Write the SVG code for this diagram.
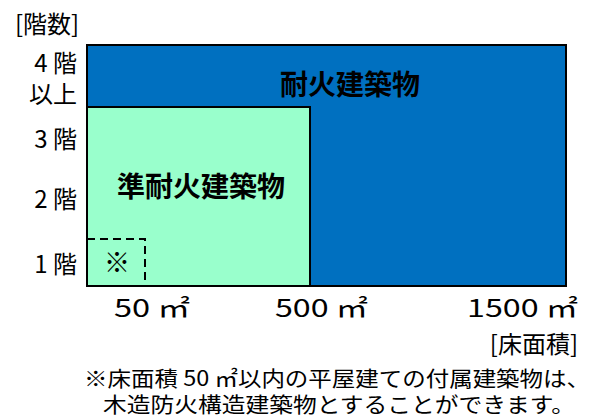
<svg xmlns="http://www.w3.org/2000/svg" width="606" height="419" viewBox="0 0 606 419">
<style>
text{font-family:"Noto Sans CJK JP","Noto Sans",sans-serif;fill:#000}
.ax{font-size:24px}
.lb{font-size:28px;font-weight:bold}
.ft{font-size:21px}
.bx{stroke:#000;stroke-width:2}
</style>
<rect width="606" height="419" fill="#fff"/>
<g id="fireproof">
<rect class="bx" x="87" y="45" width="479" height="241" fill="#0070C0"/>
<text class="lb" x="350" y="95" text-anchor="middle">耐火建築物</text>
</g>
<g id="quasi-fireproof">
<rect class="bx" x="87" y="107" width="223" height="179" fill="#99FFCC"/>
<text class="lb" x="201" y="197" text-anchor="middle">準耐火建築物</text>
</g>
<g id="small-annex">
<path d="M87 239 H145 V286" fill="none" stroke="#000" stroke-width="2" stroke-dasharray="8 5"/>
<text x="117" y="272" font-size="26" text-anchor="middle">※</text>
</g>
<g id="axis-labels">
<text class="ax" x="15" y="33">[階数]</text>
<text class="ax" x="77" y="72" text-anchor="end">4 階</text>
<text class="ax" x="77" y="103" text-anchor="end">以上</text>
<text class="ax" x="77" y="148" text-anchor="end">3 階</text>
<text class="ax" x="77" y="208" text-anchor="end">2 階</text>
<text class="ax" x="77" y="273" text-anchor="end">1 階</text>
<text class="ax" x="114" y="317" font-size="27" textLength="76" lengthAdjust="spacingAndGlyphs">50 ㎡</text>
<text class="ax" x="275" y="317" font-size="27" textLength="93" lengthAdjust="spacingAndGlyphs">500 ㎡</text>
<text class="ax" x="467" y="317" font-size="27" textLength="111" lengthAdjust="spacingAndGlyphs">1500 ㎡</text>
<text class="ax" x="578" y="353" text-anchor="end">[床面積]</text>
</g>
<g id="note">
<text class="ft" x="84" y="386" textLength="506" lengthAdjust="spacingAndGlyphs">※床面積 50 ㎡以内の平屋建ての付属建築物は、</text>
<text class="ft" x="103" y="412" textLength="472" lengthAdjust="spacingAndGlyphs">木造防火構造建築物とすることができます。</text>
</g>
</svg>
